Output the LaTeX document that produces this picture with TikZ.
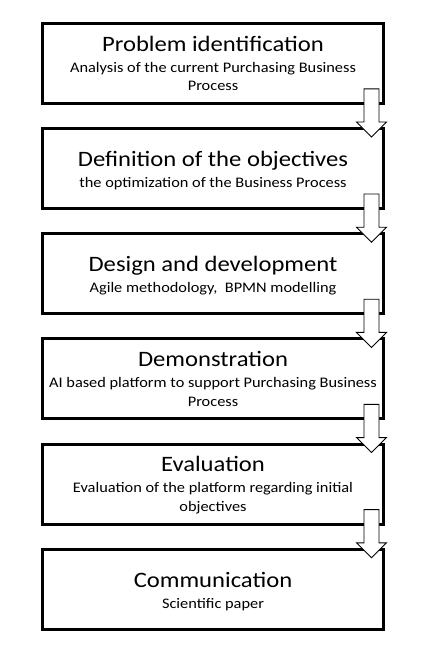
\documentclass[tikz,border=0pt]{standalone}
\usepackage{fontspec}
\setmainfont{Carlito}[FakeStretch=1.12]
\usetikzlibrary{calc}
\tikzset{
  stepbox/.style={draw=black, line width=3pt, minimum width=341pt, minimum height=80pt, inner sep=0pt, fill=white},
  ttl/.style={anchor=base, inner sep=0pt, font=\fontsize{22}{26}\selectfont},
  sub/.style={anchor=base, inner sep=0pt, font=\fontsize{14.6}{18}\selectfont},
  blockarr/.style={draw=black, line width=0.9pt, fill=white, line join=miter},
}
\newcommand\blockarrow[2]{%
  \draw[blockarr]
    ($(#1.south east)+(-21,16)$) -- ($(#1.south east)+(-6,16)$)
    -- ($(#2.north east)+(-6,5)$) -- ($(#2.north east)+(1.5,5)$)
    -- ($(#2.north east)+(-13.5,-10)$) -- ($(#2.north east)+(-28.5,5)$)
    -- ($(#2.north east)+(-21,5)$) -- cycle;}
\begin{document}
\begin{tikzpicture}[x=1pt,y=1pt]
\fill[white] (0,0) rectangle (430,-649);
\useasboundingbox (0,0) rectangle (430,-649);
% boxes
\node[stepbox] (b1) at (213,-63.3) {};
\node[stepbox] (b2) at (213,-168.5) {};
\node[stepbox] (b3) at (213,-273.7) {};
\node[stepbox] (b4) at (213,-378.9) {};
\node[stepbox] (b5) at (213,-484.1) {};
\node[stepbox] (b6) at (213,-589.3) {};
% texts
\node[ttl] (t1) at ($(b1.center)+(0,12.3)$) {Problem identification};
\node[sub] (s1a) at ($(b1.center)+(0,-8.7)$) {Analysis of the current Purchasing Business};
\node[sub] (s1b) at ($(b1.center)+(0,-27.4)$) {Process};
\node[ttl] (t2) at ($(b2.center)+(0,2)$) {Definition of the objectives};
\node[sub] (s2) at ($(b2.center)+(0,-19)$) {the optimization of the Business Process};
\node[ttl] (t3) at ($(b3.center)+(0,2)$) {Design and development};
\node[sub] (s3) at ($(b3.center)+(0,-19)$) {Agile methodology,~ BPMN modelling};
\node[ttl] (t4) at ($(b4.center)+(0,12.3)$) {Demonstration};
\node[sub] (s4a) at ($(b4.center)+(0,-8.7)$) {AI based platform to support Purchasing Business};
\node[sub] (s4b) at ($(b4.center)+(0,-27.4)$) {Process};
\node[ttl] (t5) at ($(b5.center)+(0,12.3)$) {Evaluation};
\node[sub] (s5a) at ($(b5.center)+(0,-8.7)$) {Evaluation of the platform regarding initial};
\node[sub] (s5b) at ($(b5.center)+(0,-27.4)$) {objectives};
\node[ttl] (t6) at ($(b6.center)+(0,2)$) {Communication};
\node[sub] (s6) at ($(b6.center)+(0,-19)$) {Scientific paper};
% block arrows
\blockarrow{b1}{b2}
\blockarrow{b2}{b3}
\blockarrow{b3}{b4}
\blockarrow{b4}{b5}
\blockarrow{b5}{b6}
\end{tikzpicture}
\end{document}
